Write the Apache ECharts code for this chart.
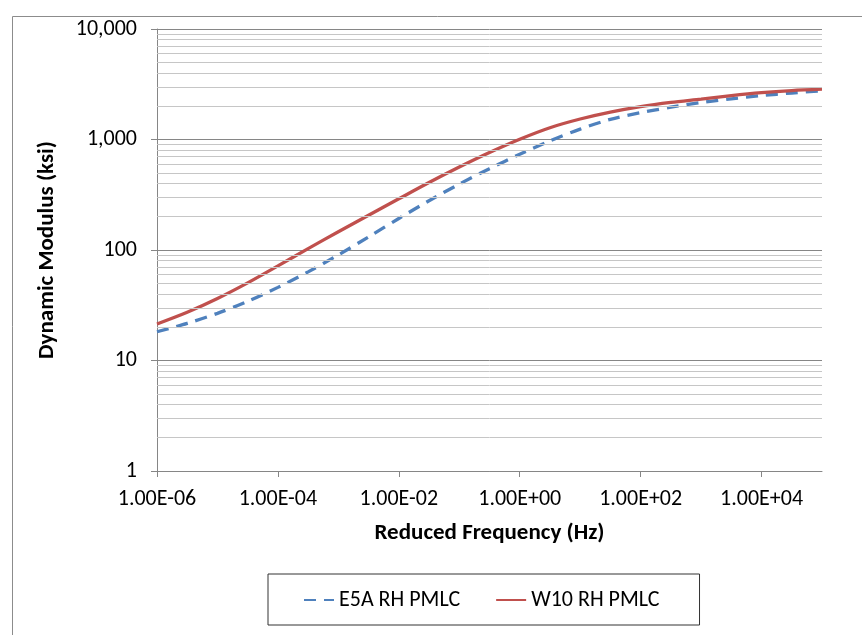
<!DOCTYPE html>
<html>
<head>
<meta charset="utf-8">
<script src="https://cdn.jsdelivr.net/npm/echarts@6/dist/echarts.min.js"></script>
<style>
html,body{margin:0;padding:0;background:#fff;}
#main{width:862px;height:635px;}
</style>
</head>
<body>
<div id="main"></div>
<script>
// Reduced frequency (Hz), half-decade steps
var freq = [1e-6, 3.16e-6, 1e-5, 3.16e-5, 1e-4, 3.16e-4, 1e-3, 3.16e-3, 1e-2, 3.16e-2, 1e-1, 3.16e-1,
            1, 3.16, 10, 31.6, 100, 316, 1000, 3160, 1e4, 3.16e4, 1e5];
// Dynamic modulus (ksi)
var e5a = [18.2, 21.7, 26.7, 34.3, 45.9, 63.4, 90.3, 131.4, 192.8, 279.3, 394.8, 544,
           734.6, 971, 1242, 1523, 1748, 1960, 2158, 2336, 2496, 2635, 2759];
var w10 = [21.4, 27.3, 36.4, 50.4, 71.8, 103, 146.1, 206.1, 290.6, 408.2, 563.8, 762.9,
           1006, 1279, 1533, 1770, 1985, 2166, 2321, 2496, 2652, 2770, 2852];
var seriesNames = ['E5A RH PMLC', 'W10 RH PMLC'];
var xTicks = [1e-6, 1e-4, 1e-2, 1, 1e2, 1e4];
var yMinorGrid = [2,3,4,5,6,7,8,9,20,30,40,50,60,70,80,90,200,300,400,500,600,700,800,900,
                  2000,3000,4000,5000,6000,7000,8000,9000];

function pairs(xs, ys){ return xs.map(function(x,i){ return [x, ys[i]]; }); }
function fmtX(v){
  var s = Number(v).toExponential(2).toUpperCase(); // e.g. 1.00E-6
  return s.replace(/E([+-])(\d)$/, 'E$10$2');
}
function fmtY(v){ return Math.round(v).toLocaleString('en-US'); }

var FONT = 'Carlito, Calibri, Lato, sans-serif';
var chart = echarts.init(document.getElementById('main'), null, {renderer:'canvas'});
chart.setOption({
  animation: false,
  backgroundColor: '#fff',
  graphic: [{
    type: 'rect', left: 10, top: 14, silent: true,
    shape: {width: 900, height: 700},
    style: {fill: 'none', stroke: '#8c8c8c', lineWidth: 1}
  }],
  grid: {left: 157, right: 40, top: 29, bottom: 164, containLabel: false},
  legend: {
    data: seriesNames,
    left: 268, top: 574,
    padding: [15, 40, 14, 35],
    itemGap: 35,
    itemWidth: 30, itemHeight: 14,
    borderColor: '#333', borderWidth: 1,
    itemStyle: {opacity: 0},
    textStyle: {fontFamily: FONT, fontSize: 22, color: '#000'}
  },
  xAxis: {
    type: 'log', logBase: 10, min: 1e-6, max: 1e5,
    name: 'Reduced Frequency (Hz)', nameLocation: 'middle', nameGap: 51,
    nameTextStyle: {fontFamily: FONT, fontSize: 23, fontWeight: 'bold', color: '#000'},
    axisLine: {lineStyle: {color: '#868686', width: 1}},
    axisTick: {show: true, length: 6, inside: false, customValues: xTicks, lineStyle: {color: '#868686'}},
    axisLabel: {customValues: xTicks, formatter: fmtX, fontFamily: FONT, fontSize: 22, color: '#000', margin: 17},
    splitLine: {show: false},
    minorTick: {show: false}, minorSplitLine: {show: false}
  },
  yAxis: {
    type: 'log', logBase: 10, min: 1, max: 10000, interval: 1,
    name: 'Dynamic Modulus (ksi)', nameLocation: 'middle', nameGap: 98,
    nameTextStyle: {fontFamily: FONT, fontSize: 23, fontWeight: 'bold', color: '#000'},
    axisLine: {show: true, lineStyle: {color: '#868686', width: 1}},
    axisTick: {show: true, length: 6, inside: false, lineStyle: {color: '#868686'}},
    axisLabel: {formatter: fmtY, fontFamily: FONT, fontSize: 22, color: '#000', margin: 20},
    splitLine: {show: true, lineStyle: {color: '#868686', width: 1}}
  },
  series: [
    {
      name: 'minor-grid', type: 'line', data: [], z: 1, silent: true,
      markLine: {
        silent: true, symbol: ['none','none'], animation: false,
        label: {show: false},
        lineStyle: {color: '#c6c6c6', type: 'solid', width: 1},
        data: yMinorGrid.map(function(v){ return {yAxis: v}; })
      }
    },
    {
      name: seriesNames[0], type: 'line', data: pairs(freq, e5a), z: 3,
      smooth: 0.3, showSymbol: false, symbol: 'none',
      lineStyle: {color: '#4F81BD', width: 3.3, type: [12, 8]},
      itemStyle: {color: '#4F81BD'}
    },
    {
      name: seriesNames[1], type: 'line', data: pairs(freq, w10), z: 4,
      smooth: 0.3, showSymbol: false, symbol: 'none',
      lineStyle: {color: '#C0504D', width: 3.3, type: 'solid'},
      itemStyle: {color: '#C0504D'}
    }
  ]
});
</script>
</body>
</html>
